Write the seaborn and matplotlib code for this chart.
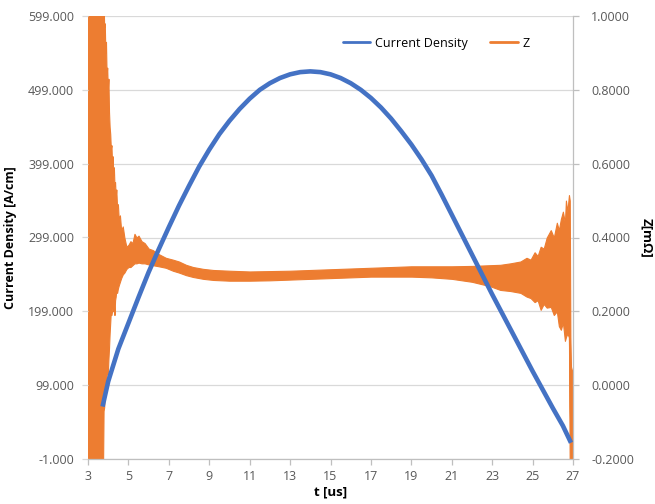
import matplotlib
matplotlib.use('Agg')
import matplotlib.pyplot as plt
from matplotlib.lines import Line2D
from matplotlib.ticker import FormatStrFormatter
import numpy as np
import pandas as pd
import seaborn as sns

# ---------------- data ----------------
cd_t = [3.72, 4.0, 4.5, 5.0, 5.5, 6.0, 6.5, 7.0, 7.5, 8.0, 8.5, 9.0, 9.5, 10.0,
        10.5, 11.0, 11.5, 12.0, 12.5, 13.0, 13.5, 14.0, 14.5, 15.0, 15.5, 16.0,
        16.5, 17.0, 17.5, 18.0, 18.5, 19.0, 19.5, 20.0, 20.5, 21.0, 21.5, 22.0,
        22.5, 23.0, 23.5, 24.0, 24.5, 25.0, 25.5, 26.0, 26.5, 26.9]
cd_v = [70, 104, 148, 183, 218, 252, 283, 313, 342, 369, 395, 418, 439, 457,
        473, 487, 499, 508, 515, 520, 523, 524, 523, 520, 515, 508,
        499, 488, 475, 460, 443, 425, 405, 383, 357, 330, 303, 276,
        249, 222, 196, 170, 144, 118, 93, 68, 44, 21]

z_t = [3.00, 3.71, 3.74, 3.77, 3.80, 3.83, 3.86, 3.89, 3.92, 3.95, 3.98, 4.01,
       4.04, 4.07, 4.10, 4.13, 4.16, 4.19, 4.22, 4.25, 4.28, 4.31, 4.34, 4.37,
       4.40, 4.44, 4.48, 4.52, 4.58, 4.64, 4.72, 4.80, 4.90, 5.00, 5.10, 5.20,
       5.30, 5.40, 5.50, 5.65, 5.80, 6.00, 6.20, 6.50, 6.85, 7.20, 7.50, 7.85,
       8.20, 8.70, 9.20, 10.0, 11.0, 12.0, 13.0, 14.0, 15.0, 16.0, 17.0, 18.0,
       19.0, 20.0, 21.0, 22.0, 22.9, 23.4, 23.9, 24.4, 24.7, 24.9, 25.1, 25.25,
       25.4, 25.55, 25.7, 25.9, 26.05, 26.2, 26.3, 26.4, 26.5, 26.6, 26.65,
       26.72, 26.8, 26.84, 26.87, 26.9, 26.95, 27.0]
z_hi = [1.05, 1.05, 1.05, 1.05, 0.97, 0.98, 0.90, 0.93, 0.84, 0.86, 0.80, 0.83,
        0.74, 0.70, 0.68, 0.64, 0.65, 0.60, 0.62, 0.57, 0.59, 0.54, 0.55, 0.51,
        0.53, 0.48, 0.49, 0.45, 0.46, 0.42, 0.43, 0.40, 0.375, 0.38, 0.39, 0.385,
        0.41, 0.40, 0.405, 0.39, 0.385, 0.37, 0.366, 0.355, 0.345, 0.34, 0.335, 0.326,
        0.32, 0.315, 0.312, 0.31, 0.308, 0.309, 0.31, 0.312, 0.314, 0.316, 0.318, 0.32,
        0.322, 0.322, 0.322, 0.323, 0.325, 0.326, 0.33, 0.335, 0.345, 0.34, 0.36, 0.35,
        0.375, 0.37, 0.40, 0.42, 0.40, 0.44, 0.42, 0.45, 0.47, 0.44, 0.50,
        0.47, 0.515, 0.50, 0.13, 0.05, 0.04, 0.04]
z_lo = [-0.25, -0.25, -0.25, -0.07, -0.06, -0.03, 0.0, 0.014, 0.02, 0.05, 0.03, 0.07,
        0.10, 0.14, 0.17, 0.20, 0.19, 0.20, 0.21, 0.20, 0.22, 0.19, 0.23, 0.24,
        0.258, 0.25, 0.262, 0.27, 0.28, 0.29, 0.30, 0.305, 0.315, 0.32, 0.32, 0.325,
        0.33, 0.33, 0.332, 0.33, 0.33, 0.327, 0.325, 0.322, 0.318, 0.31, 0.305, 0.298,
        0.293, 0.288, 0.285, 0.283, 0.283, 0.284, 0.286, 0.288, 0.29, 0.292, 0.294, 0.294,
        0.294, 0.292, 0.288, 0.28, 0.268, 0.258, 0.255, 0.25, 0.24, 0.236, 0.225, 0.23,
        0.204, 0.22, 0.21, 0.212, 0.19, 0.20, 0.16, 0.15, 0.17, 0.12, 0.13,
        0.14, 0.13, -0.25, -0.25, -0.25, -0.25, -0.25]

left_ticks = [-1, 99, 199, 299, 399, 499, 599]
right_ticks = [-0.2, 0.0, 0.2, 0.4, 0.6, 0.8, 1.0]
x_ticks = [3, 5, 7, 9, 11, 13, 15, 17, 19, 21, 23, 25, 27]

BLUE = '#4472C4'
ORANGE = '#ED7D31'
GRID = '#d9d9d9'
TICKC = '#595959'

sns.set_theme(style='white')
plt.rcParams['font.family'] = ['Open Sans', 'DejaVu Sans']

fig = plt.figure(figsize=(6.55, 5.04), dpi=100)
ax = fig.add_axes([88 / 655, 45 / 504, 485 / 655, 443 / 504])
ax2 = ax.twinx()
ax.set_zorder(ax2.get_zorder() + 1)
ax.patch.set_visible(False)

# Z series (secondary axis, drawn below)
df_z = pd.DataFrame({'t': z_t, 'hi': z_hi, 'lo': z_lo})
df_z['mid'] = (df_z['hi'] + df_z['lo']) / 2
ax2.fill_between(df_z['t'], df_z['lo'], df_z['hi'], color=ORANGE, lw=0.8,
                 edgecolor=ORANGE)
sns.lineplot(data=df_z, x='t', y='mid', ax=ax2, color=ORANGE, lw=1.2,
             legend=False)
ax2.set_ylim(-0.2, 1.0)
ax2.set_yticks(right_ticks)
ax2.yaxis.set_major_formatter(FormatStrFormatter('%.4f'))
ax2.yaxis.grid(True, color=GRID, lw=0.9)
ax2.set_axisbelow(True)

# Current density (primary axis, on top)
df_cd = pd.DataFrame({'t': cd_t, 'v': cd_v})
sns.lineplot(data=df_cd, x='t', y='v', ax=ax, color=BLUE, lw=3.3,
             legend=False, solid_capstyle='butt')
ax.set_xlim(3, 27)
ax.set_ylim(-1, 599)
ax.set_xticks(x_ticks)
ax.set_yticks(left_ticks)
ax.yaxis.set_major_formatter(FormatStrFormatter('%.3f'))
ax.grid(False)

# spines
for s in ['left', 'top', 'right']:
    ax.spines[s].set_visible(False)
ax.spines['bottom'].set_color('#bfbfbf')
ax.spines['bottom'].set_linewidth(0.9)
for s in ['left', 'top', 'bottom']:
    ax2.spines[s].set_visible(False)
ax2.spines['right'].set_color('#bfbfbf')
ax2.spines['right'].set_linewidth(0.9)

ax.tick_params(axis='x', bottom=True, direction='out', length=4, width=0.9,
               color='#bfbfbf', labelsize=9, labelcolor=TICKC, pad=4)
ax.tick_params(axis='y', left=True, direction='out', length=4, width=0.9,
               color=GRID, labelsize=9, labelcolor=TICKC, pad=6)
ax2.tick_params(axis='y', right=True, direction='out', length=4, width=0.9,
                color='#bfbfbf', labelsize=9, labelcolor=TICKC, pad=9)

ax.set_xlabel('t [us]', fontsize=9.5, fontweight='bold', color='black',
              labelpad=2)
ax.set_ylabel('Current Density [A/cm]', fontsize=9, fontweight='bold',
              color='black', labelpad=8)
ax2.set_ylabel('Z[mΩ]', fontsize=9.5, fontweight='bold', color='black',
               rotation=270, labelpad=14)

handles = [Line2D([0], [0], color=BLUE, lw=2),
           Line2D([0], [0], color=ORANGE, lw=2)]
leg = ax.legend(handles, ['Current Density', 'Z'], loc='center',
                bbox_to_anchor=(0.718, 0.939), ncol=2, frameon=False,
                fontsize=9, handlelength=2.2, columnspacing=1.8,
                handletextpad=0.4)
for txt in leg.get_texts():
    txt.set_color('black')

fig.savefig('out.png', dpi=100, facecolor='white')
